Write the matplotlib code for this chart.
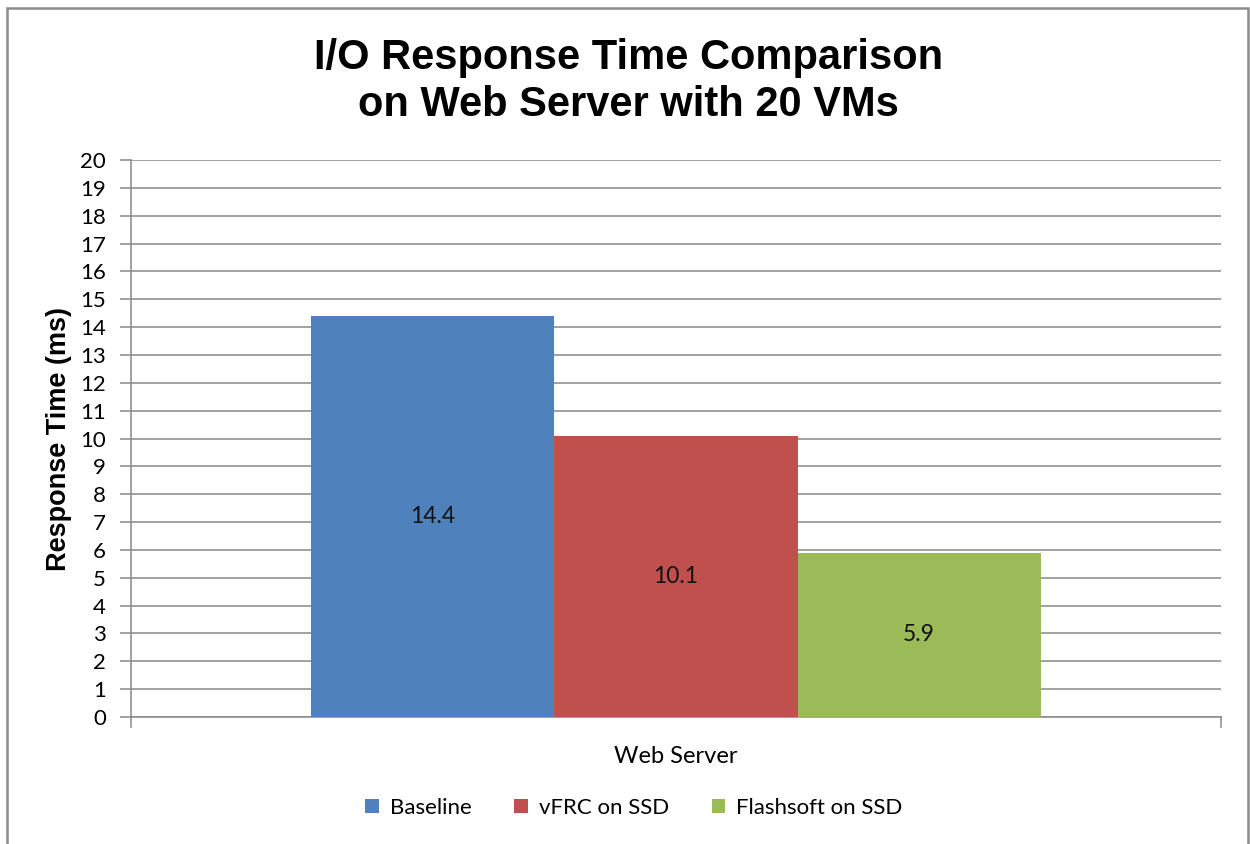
import numpy as np
import matplotlib.pyplot as plt
from matplotlib.patches import Rectangle

categories = ['Web Server']
series = ['Baseline', 'vFRC on SSD', 'Flashsoft on SSD']
values = [14.4, 10.1, 5.9]
colors = ['#4F81BD', '#C0504D', '#9BBB59']
yticks = list(range(0, 21))

body_font = ['Lato', 'DejaVu Sans']
head_font = ['Liberation Sans', 'DejaVu Sans']

fig = plt.figure(figsize=(12.5, 8.44), dpi=100)
ax = fig.add_axes([0.1048, 0.1505, 0.872, 0.6599])

# outer chart frame, open at the bottom like the cropped original
fig.patches.append(Rectangle((7 / 1250, -0.05), 1241 / 1250, 1 - 8 / 844 + 0.05,
                             transform=fig.transFigure, fill=False,
                             edgecolor='#8c8c8c', linewidth=1.8))

bar_w = 0.223
offsets = (np.arange(len(series)) - 1) * bar_w
for off, name, val, col in zip(offsets, series, values, colors):
    ax.bar(off, val, width=bar_w, color=col, label=name, zorder=3)
    ax.text(off, val / 2, f'{val:.1f}', ha='center', va='center',
            fontsize=16.5, family=body_font, color='#111111', zorder=4)

ax.set_xlim(-0.5, 0.5)
ax.set_ylim(0, 20)
ax.set_yticks(yticks)
ax.set_yticklabels([str(t) for t in yticks], family=body_font, fontsize=16)
ax.set_xticks([0])
ax.set_xticklabels(categories, family=body_font, fontsize=17)
ax.tick_params(axis='x', length=0, pad=21)
ax.tick_params(axis='y', length=8, width=1.1, color='#888888', pad=10)

ax.grid(axis='y', color='#888888', linewidth=1.1, zorder=0)
for s in ['top', 'right']:
    ax.spines[s].set_visible(False)
for s in ['left', 'bottom']:
    ax.spines[s].set_color('#888888')
    ax.spines[s].set_linewidth(1.1)
# end ticks on the category axis
for x in [-0.5, 0.5]:
    ax.plot([x, x], [0, -0.36], color='#888888', linewidth=1.1,
            clip_on=False, zorder=2)

ax.set_ylabel('Response Time (ms)', family=head_font, fontweight='bold',
              fontsize=19.5, labelpad=6)

fig.text(0.503, 0.903, 'I/O Response Time Comparison\non Web Server with 20 VMs',
         ha='center', va='center', family=head_font, fontweight='bold',
         fontsize=30, linespacing=1.22)

ax.legend(loc='center', bbox_to_anchor=(0.4615, -0.163),
          ncol=3, frameon=False, prop={'family': body_font, 'size': 16},
          handlelength=0.62, handleheight=0.62, handletextpad=0.5, columnspacing=1.9)

fig.savefig('out.png', dpi=100)
